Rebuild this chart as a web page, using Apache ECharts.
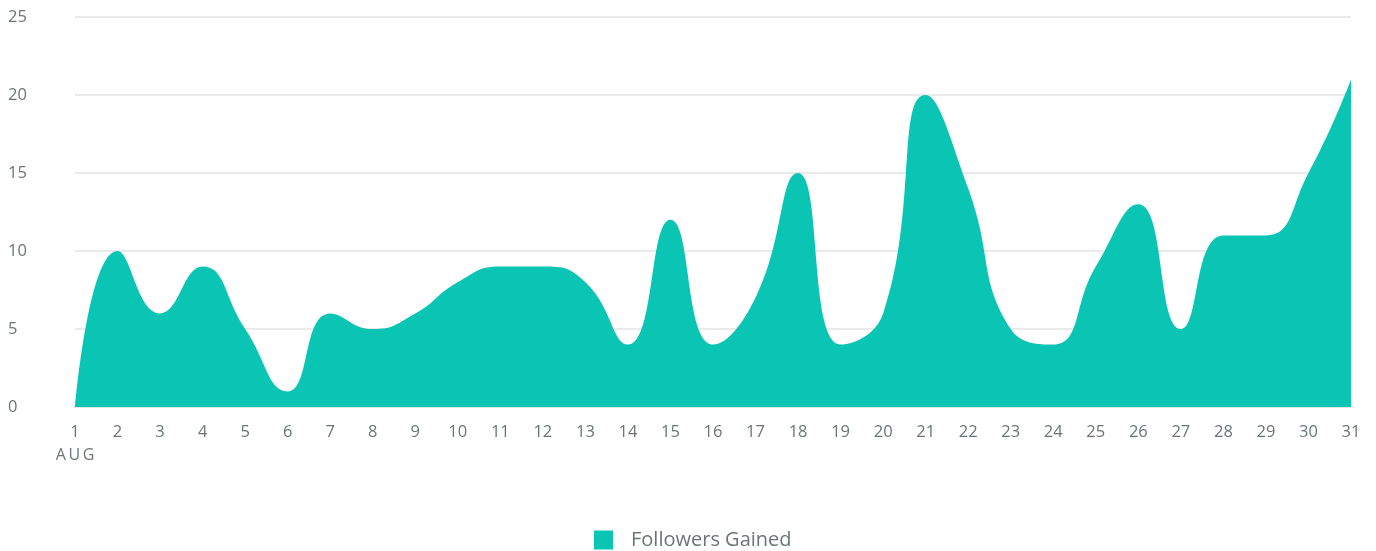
<!DOCTYPE html>
<html><head><meta charset="utf-8">
<script src="https://cdn.jsdelivr.net/npm/echarts@6/dist/echarts.min.js"></script>
<style>html,body{margin:0;padding:0;background:#fff}#c{width:1376px;height:551px}</style>
</head><body><div id="c"></div>
<script>
const days = ['1','2','3','4','5','6','7','8','9','10','11','12','13','14','15','16','17','18','19','20','21','22','23','24','25','26','27','28','29','30','31'];
const followersGained = [0,10,6,9,5,1,6,5,6,8,9,9,8,4,12,4,7,15,4,6,20,14,5,4,9,13,5,11,11,15,21];
const yTicks = [0,5,10,15,20,25];
const seriesName = 'Followers Gained';
const monthLabel = 'A\u2009U\u2009G';
const FONT = '"Open Sans", sans-serif';

const chart = echarts.init(document.getElementById('c'));
chart.setOption({
  animation: false,
  grid: {left: 75, right: 25, top: 17, bottom: 144},
  legend: {
    top: 530, left: 594, padding: 0,
    itemWidth: 19, itemHeight: 19, itemGap: 10,
    icon: 'rect',
    textStyle: {color: '#6b7575', fontSize: 20, fontFamily: FONT, padding: [0,0,0,13]},
    data: [seriesName]
  },
  xAxis: {
    type: 'category', boundaryGap: false, data: days,
    axisLine: {lineStyle: {color: '#e3e3e3', width: 2}},
    axisTick: {show: false},
    axisLabel: {
      color: '#6b7575', fontSize: 16.5, fontFamily: FONT, margin: 14,
      interval: 0, lineHeight: 23,
      formatter: (v, i) => i === 0 ? v + '\n{m|' + monthLabel + '}' : v,
      rich: {m: {color: '#6b7575', fontSize: 16, fontFamily: FONT}}
    }
  },
  yAxis: {
    type: 'value', min: yTicks[0], max: yTicks[yTicks.length-1], interval: 5,
    axisLine: {show: false}, axisTick: {show: false},
    splitLine: {lineStyle: {color: '#e3e3e3', width: 1.5}},
    axisLabel: {color: '#6b7575', fontSize: 16.5, fontFamily: FONT, align: 'left', margin: 67}
  },
  series: [{
    name: seriesName, type: 'line', data: followersGained,
    smooth: 0.5, symbol: 'none',
    lineStyle: {width: 0, color: '#0ac4b4'},
    itemStyle: {color: '#0ac4b4'},
    areaStyle: {color: '#0ac4b4', opacity: 1}
  }]
});
</script></body></html>
